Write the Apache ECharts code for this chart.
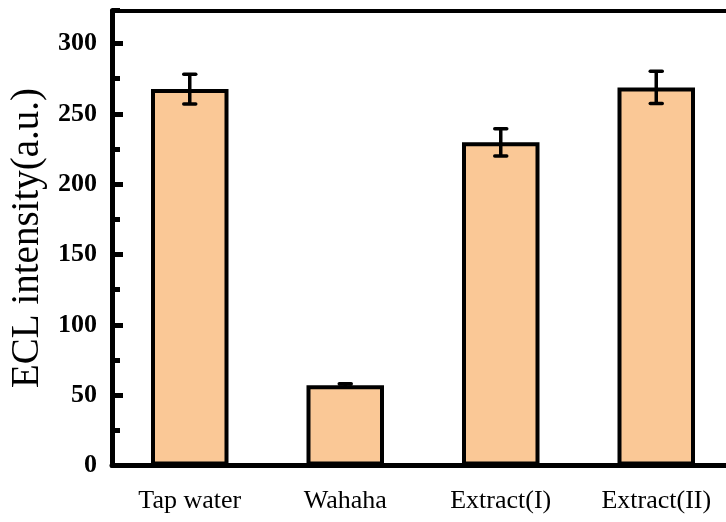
<!DOCTYPE html>
<html>
<head>
<meta charset="utf-8">
<script src="https://cdn.jsdelivr.net/npm/echarts@6/dist/echarts.min.js"></script>
<style>
html,body{margin:0;padding:0;background:#fff;}
#chart{width:726px;height:522px;}
</style>
</head>
<body>
<div id="chart"></div>
<script>
var categories = ['Tap water', 'Wahaha', 'Extract(I)', 'Extract(II)'];
var values = [267.6, 57.0, 229.8, 268.8];
var errors = [10.5, 1.2, 9.7, 11.5];
var yTicks = [0, 50, 100, 150, 200, 250, 300];

var chart = echarts.init(document.getElementById('chart'));
var FONT = '"Liberation Serif","Times New Roman",serif';
var yMax = 323.5;

var errData = categories.map(function (c, i) {
  return [i, values[i] - errors[i], values[i] + errors[i]];
});

chart.setOption({
  animation: false,
  grid: { left: 112, right: -8, top: 10.5, bottom: 56.5, containLabel: false, outerBoundsMode: 'none' },
  xAxis: [{
    type: 'category',
    data: categories,
    position: 'bottom',
    axisLine: { show: true, lineStyle: { color: '#000', width: 5 } },
    axisTick: { show: false },
    axisLabel: { color: '#000', fontFamily: FONT, fontSize: 26, margin: 23 },
    splitLine: { show: false }
  }, {
    type: 'category',
    data: categories,
    position: 'top',
    axisLine: { show: true, onZero: false, lineStyle: { color: '#000', width: 4 } },
    axisTick: { show: false },
    axisLabel: { show: false },
    splitLine: { show: false }
  }],
  yAxis: [{
    type: 'value',
    min: 0, max: yMax, interval: 50,
    name: 'ECL intensity(a.u.)',
    nameLocation: 'middle',
    nameGap: 64,
    nameTextStyle: { color: '#000', fontFamily: FONT, fontSize: 39 },
    axisLine: { show: true, lineStyle: { color: '#000', width: 5 } },
    axisTick: { show: true, inside: true, length: 11, lineStyle: { color: '#000', width: 5 } },
    axisLabel: {
      color: '#000', fontFamily: FONT, fontSize: 26, fontWeight: 'bold', margin: 15,
      showMaxLabel: false,
      formatter: function (v) { return yTicks.indexOf(v) >= 0 ? String(v) : ''; }
    },
    splitLine: { show: false }
  }, {
    type: 'value',
    min: 0, max: yMax, interval: 25,
    position: 'left',
    axisLine: { show: false },
    axisTick: { show: true, inside: true, length: 8, lineStyle: { color: '#000', width: 5 } },
    axisLabel: { show: false },
    splitLine: { show: false }
  }],
  series: [{
    type: 'bar',
    data: values,
    barWidth: 77.5,
    itemStyle: { color: '#FAC896', borderColor: '#000', borderWidth: 4 }
  }, {
    type: 'custom',
    data: errData,
    z: 10,
    renderItem: function (params, api) {
      var x = api.value(0);
      var lo = api.coord([x, api.value(1)]);
      var hi = api.coord([x, api.value(2)]);
      var hw = 6;
      var st = { stroke: '#000', lineWidth: 3.5 };
      return {
        type: 'group',
        children: [
          { type: 'line', shape: { x1: hi[0], y1: hi[1], x2: lo[0], y2: lo[1] }, style: st },
          { type: 'line', shape: { x1: hi[0] - hw, y1: hi[1], x2: hi[0] + hw, y2: hi[1] }, style: { stroke: '#000', lineWidth: 3.5, lineCap: 'round' } },
          { type: 'line', shape: { x1: lo[0] - hw, y1: lo[1], x2: lo[0] + hw, y2: lo[1] }, style: { stroke: '#000', lineWidth: 3.5, lineCap: 'round' } }
        ]
      };
    }
  }]
});
</script>
</body>
</html>
